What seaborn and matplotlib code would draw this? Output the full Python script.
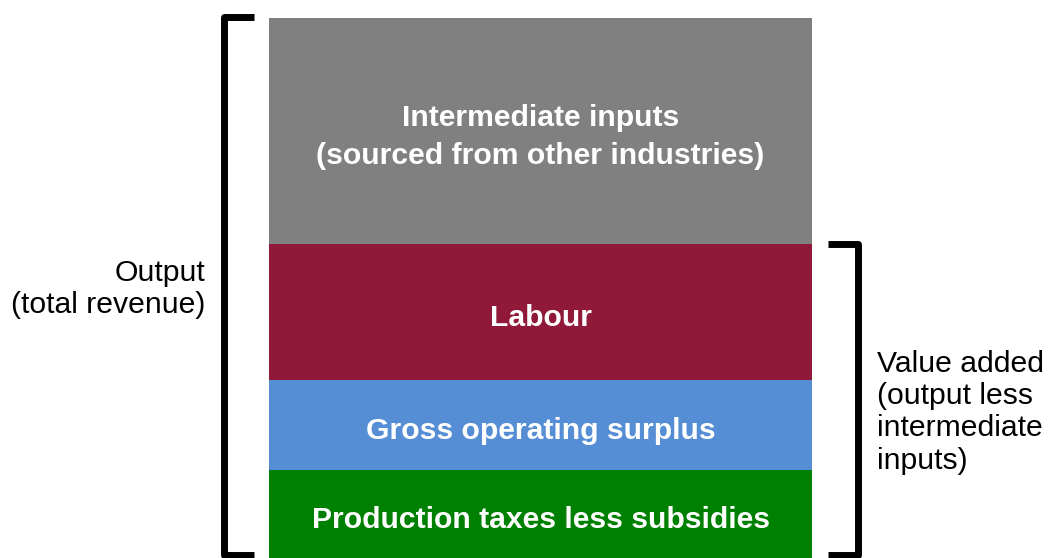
import matplotlib
matplotlib.use("Agg")
import matplotlib.pyplot as plt
import seaborn as sns
import numpy as np

sns.set_theme(style="white")
plt.rcParams['font.family'] = ['Liberation Sans', 'DejaVu Sans']

# ---- data ----
industry = ["Industry"]
components = ["Production taxes less subsidies", "Gross operating surplus", "Labour",
              "Intermediate inputs\n(sourced from other industries)"]
shares = [16.3, 16.7, 25.2, 41.8]
colors = ["#008000", "#558ED5", "#901838", "#808080"]
left_label = "Output\n(total revenue)"
right_label = "Value added\n(output less\nintermediate\ninputs)"

W, H = 1051, 558
fig = plt.figure(figsize=(W / 100, H / 100), dpi=100)
ax = fig.add_axes([0, 0, 1, 1])

cum = np.cumsum(shares)
bottoms = cum - np.array(shares)
# stacked bar: draw cumulative totals from top to bottom
for i in reversed(range(len(shares))):
    sns.barplot(x=industry, y=[cum[i]], color=colors[i], saturation=1, width=1.0,
                linewidth=0, ax=ax)

for i, lab in enumerate(components):
    ax.text(0, bottoms[i] + shares[i] / 2 - 1.2, lab, ha="center", va="center",
            color="white", fontsize=21.7, fontweight="bold", linespacing=1.45)

total = cum[-1]
va_top = cum[2]
ax.set_ylim(0, total * H / 540)
ax.set_xlim(-0.5 - 269 / 543, 0.5 + (W - 812) / 543)
ax.axis("off")

lw = 5.0
# left bracket (output)
xl, xl2 = -0.582, -0.528
ax.plot([xl2, xl, xl, xl2], [total + 0.15, total + 0.15, 0.6, 0.6], color="black",
        lw=lw, solid_joinstyle="round", solid_capstyle="butt", clip_on=False)
# right bracket (value added)
xr, xr2 = 0.585, 0.529
ax.plot([xr2, xr, xr, xr2], [va_top, va_top, 0.6, 0.6], color="black",
        lw=lw, solid_joinstyle="round", solid_capstyle="butt", clip_on=False)

ax.text(-0.5 - (269 - 205) / 543, 49.8, left_label, ha="right", va="center",
        fontsize=21.7, color="black", linespacing=1.2)
ax.text(0.5 + (877 - 812) / 543, 27.0, right_label, ha="left", va="center",
        fontsize=21.7, color="black", linespacing=1.2)

fig.savefig("out.png", dpi=100)
